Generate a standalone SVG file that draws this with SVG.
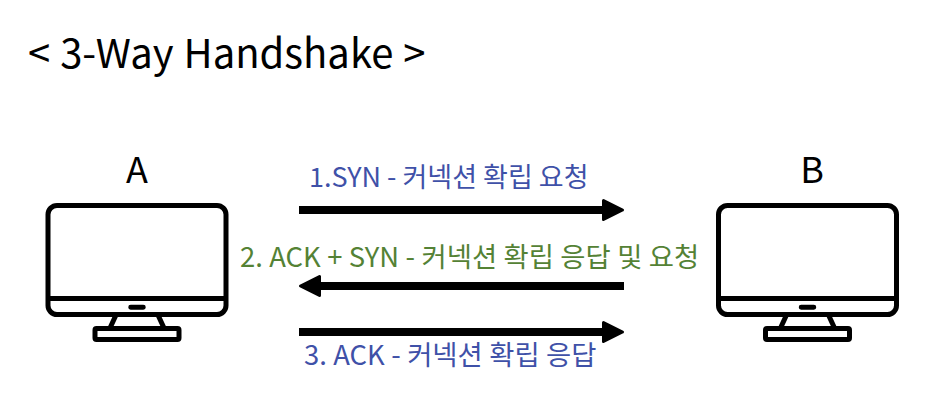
<svg xmlns="http://www.w3.org/2000/svg" width="941" height="410" viewBox="0 0 941 410">
<style>
text{font-family:"Noto Sans CJK KR","Noto Sans",sans-serif}
.n{font-size:36px;fill:#000}
.t{font-size:40px;fill:#000;word-spacing:1px}
.b{font-size:27px;fill:#3f51a8}
.g{font-size:27.400px;fill:#548235;word-spacing:.3px}
.c{stroke:#000;stroke-width:8;fill:none}
.s{fill:none;stroke:#000;stroke-width:5;stroke-linejoin:round}
</style>
<defs>
<marker id="ah" markerUnits="userSpaceOnUse" markerWidth="26" markerHeight="26" refX="10" refY="12" orient="auto"><path d="M3.500 2.500L22.500 12L3.500 21.500Z" fill="#000" stroke="#000" stroke-width="3" stroke-linejoin="round"/></marker>
<g id="pc">
<rect x="48" y="205.500" width="178" height="109" rx="9" class="s"/>
<path d="M48 298.500H226" class="s"/>
<rect x="129" y="305.500" width="16" height="3.500" rx="1.700" fill="#000" stroke="#000" stroke-width="1.500"/>
<path d="M116 315L110 328M158 315L164 328" class="s"/>
<rect x="95" y="328.500" width="84" height="11" rx="1.500" class="s"/>
</g>
</defs>
<rect width="941" height="410" fill="#fff"/>
<text x="28" y="68" class="t">&lt; 3-Way Handshake &gt;</text>
<g id="node-a"><text x="137" y="183" class="n" text-anchor="middle">A</text><use href="#pc"/></g>
<g id="node-b"><text x="812" y="183" class="n" text-anchor="middle">B</text><use href="#pc" x="670.500"/></g>
<g id="connectors">
<path d="M299 210H610" class="c" marker-end="url(#ah)"/>
<path d="M624 286H313" class="c" marker-end="url(#ah)"/>
<path d="M299 332H610" class="c" marker-end="url(#ah)"/>
</g>
<text x="309" y="187" class="b">1.SYN - 커넥션 확립 요청</text>
<text x="240" y="267" class="g">2. ACK + SYN - 커넥션 확립 응답 및 요청</text>
<text x="304" y="365" class="g" style="fill:#3f51a8">3. ACK - 커넥션 확립 응답</text>
</svg>
